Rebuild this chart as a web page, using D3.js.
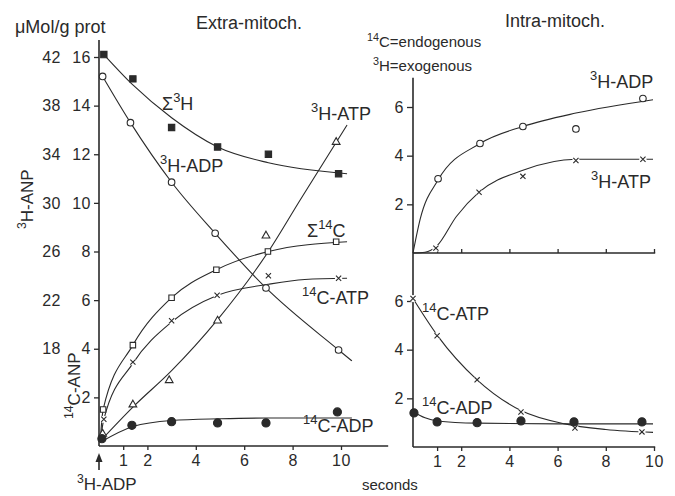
<!DOCTYPE html>
<html>
<head>
<meta charset="utf-8">
<script src="https://cdn.jsdelivr.net/npm/d3@7"></script>
<style>
    body {margin: 0; background: #fff}
    svg {display: block; background: #fff}
</style>
</head>
<body>
<svg id="chart" width="675" height="496"></svg>
<script>
// ---- left panel: extra-mitoch. (seconds, umol/g prot) ----
// measured points
const sum3H = [[0.2, 16.1], [1.4, 15.1], [3.0, 13.1], [4.9, 12.3], [7.0, 12.0], [9.9, 11.2]]
const h3ADP = [[0.15, 15.2], [1.3, 13.3], [3.0, 10.85], [4.8, 8.75], [6.9, 6.5], [9.9, 3.95]]
const h3ATP = [[0.15, 0.5], [1.4, 1.7], [2.9, 2.7], [4.9, 5.15], [6.9, 8.65], [9.8, 12.5]]
const sum14C = [[0.17, 1.5], [1.4, 4.15], [3.0, 6.1], [4.85, 7.25], [6.98, 8.0], [9.8, 8.4]]
const c14ATP = [[0.2, 1.1], [1.4, 3.45], [3.0, 5.15], [4.88, 6.2], [7.0, 7.0], [9.9, 6.9]]
const c14ADP = [[0.12, 0.3], [1.36, 0.85], [3.0, 1.0], [4.9, 0.95], [6.9, 0.95], [9.85, 1.4]]
// hand-drawn fitted curves
const sum3HFit = [[0.2, 16.1], [1.4, 14.85], [3.0, 13.5], [4.9, 12.3], [7.0, 11.65], [10.25, 11.2]]
const h3ADPFit = [[0.15, 15.2], [1.3, 13.3], [3.0, 10.85], [4.8, 8.75], [6.9, 6.5], [9.9, 3.95], [10.45, 3.5]]
const h3ATPFit = [[0.05, 0.2], [1.4, 1.6], [3.0, 3.1], [4.9, 5.2], [7.0, 8.0], [8.3, 10.1], [10.25, 13.2]]
const sum14CFit = [[0.05, 0.2], [0.17, 1.5], [1.4, 4.15], [3.0, 6.1], [4.85, 7.25], [7.0, 8.0], [10.25, 8.4]]
const c14ATPFit = [[0.05, 0.2], [0.2, 1.1], [1.4, 3.4], [3.0, 5.1], [4.9, 6.2], [7.0, 6.65], [8.5, 6.85], [10.25, 6.9]]
const c14ADPFit = [[0.05, 0.15], [1.4, 0.8], [3.0, 1.05], [5.0, 1.12], [7.0, 1.15], [10.45, 1.15]]

// ---- right panel: intra-mitoch. ----
const r3ADP = [[1.04, 3.05], [2.78, 4.5], [4.56, 5.2], [6.76, 5.1], [9.54, 6.35]]
const r3ATP = [[0.95, 0.2], [2.74, 2.5], [4.56, 3.15], [6.76, 3.8], [9.54, 3.85]]
const r14ATP = [[0, 6.1], [1.0, 4.57], [2.66, 2.76], [4.48, 1.44], [6.72, 0.78], [9.5, 0.62]]
const r14ADP = [[0.04, 1.4], [1.0, 1.03], [2.66, 1.0], [4.48, 1.07], [6.68, 1.03], [9.5, 1.03]]
const r3ADPFit = [[0, 0], [0.3, 1.4], [1.04, 3.0], [2.78, 4.5], [4.56, 5.2], [6.76, 5.75], [9.96, 6.3]]
const r3ATPFit = [[0, 0], [0.5, 0.03], [1.0, 0.3], [1.8, 1.5], [2.74, 2.5], [4.56, 3.4], [6.76, 3.85], [9.96, 3.85]]
const r14ATPFit = [[0, 6.1], [1.0, 4.6], [2.66, 2.76], [4.48, 1.5], [6.3, 0.95], [8.0, 0.72], [9.96, 0.6]]
const r14ADPFit = [[0, 1.45], [0.5, 1.2], [1.0, 1.07], [2.66, 0.98], [6.0, 0.95], [9.96, 0.95]]

// ticks
const xTicks = [1, 2, 4, 6, 8, 10]
const leftTicks = [2, 4, 6, 8, 10, 12, 14, 16]
const outerTicks = [4, 6, 8, 10, 12, 14, 16]
const outerTickLabels = ["18", "22", "26", "30", "34", "38", "42"]
const rightTicks = [2, 4, 6]

const ink = "#2a2a2a"
const font = "'Liberation Sans', Arial, sans-serif"
const svg = d3.select("#chart").style("font-family", font)

const xL = d3.scaleLinear().domain([0, 10]).range([99, 341])
const yL = d3.scaleLinear().domain([0, 16]).range([446, 57])
const xR = d3.scaleLinear().domain([0, 10]).range([413, 654])
const yRU = d3.scaleLinear().domain([0, 6]).range([253, 107])
const yRL = d3.scaleLinear().domain([0, 6]).range([447, 301])

const styleAxis = (g) => {
    g.attr("font-family", font).attr("font-size", 16)
    g.select(".domain").remove()
    g.selectAll("line").attr("stroke", ink).attr("stroke-width", 1.3)
    g.selectAll("text").attr("fill", ink).style("letter-spacing", "0.5px")
}

const axisLine = (x1, y1, x2, y2) => {
    svg.append("line")
        .attr("x1", x1).attr("y1", y1).attr("x2", x2).attr("y2", y2)
        .attr("stroke", ink).attr("stroke-width", 1.6)
}

// left axes
axisLine(xL(0), yL(0), xL(0), yL(16.7))
axisLine(xL(0), yL(0), xL(11.95), yL(0))
svg.append("g")
    .attr("transform", "translate(" + xL(0) + ",0)")
    .call(d3.axisLeft(yL).tickValues(leftTicks).tickSize(5).tickPadding(3).tickFormat(d3.format("d")))
    .call(styleAxis)
svg.append("g")
    .attr("transform", "translate(61,0)")
    .call(d3.axisLeft(yL).tickValues(outerTicks).tickSize(0).tickPadding(0)
        .tickFormat((d, i) => outerTickLabels[i]))
    .call(styleAxis)
svg.append("g")
    .attr("transform", "translate(0," + yL(0) + ")")
    .call(d3.axisBottom(xL).tickValues(xTicks).tickSize(4).tickPadding(5).tickFormat(d3.format("d")))
    .call(styleAxis)

// right axes
axisLine(xR(0), yRL(0), xR(0), yRU(7.2))
axisLine(xR(0), yRU(0), xR(10.05), yRU(0))
axisLine(xR(0), yRL(0), xR(10.05), yRL(0))
svg.append("g")
    .attr("transform", "translate(" + xR(0) + ",0)")
    .call(d3.axisLeft(yRU).tickValues(rightTicks).tickSize(6).tickPadding(3).tickFormat(d3.format("d")))
    .call(styleAxis)
svg.append("g")
    .attr("transform", "translate(" + xR(0) + ",0)")
    .call(d3.axisLeft(yRL).tickValues(rightTicks).tickSize(6).tickPadding(3).tickFormat(d3.format("d")))
    .call(styleAxis)
svg.append("g")
    .attr("transform", "translate(0," + yRU(0) + ")")
    .call(d3.axisTop(xR).tickValues(xTicks).tickSize(4).tickFormat(""))
    .call(styleAxis)
svg.append("g")
    .attr("transform", "translate(0," + yRL(0) + ")")
    .call(d3.axisBottom(xR).tickValues(xTicks).tickSize(4).tickPadding(5).tickFormat(d3.format("d")))
    .call(styleAxis)

// curves
const drawCurve = (data, x, y) => {
    svg.append("path")
        .datum(data)
        .attr("fill", "none")
        .attr("stroke", ink)
        .attr("stroke-width", 1.1)
        .attr("d", d3.line().x(d => x(d[0])).y(d => y(d[1])).curve(d3.curveMonotoneX))
}

drawCurve(sum3HFit, xL, yL)
drawCurve(h3ADPFit, xL, yL)
drawCurve(h3ATPFit, xL, yL)
drawCurve(sum14CFit, xL, yL)
drawCurve(c14ATPFit, xL, yL)
drawCurve(c14ADPFit, xL, yL)
drawCurve(r3ADPFit, xR, yRU)
drawCurve(r3ATPFit, xR, yRU)
drawCurve(r14ATPFit, xR, yRL)
drawCurve(r14ADPFit, xR, yRL)

// markers
const symbols = {
    fsq: {d: d3.symbol(d3.symbolSquare, 40)(), fill: ink},
    osq: {d: d3.symbol(d3.symbolSquare, 30)(), fill: "#fff"},
    oci: {d: d3.symbol(d3.symbolCircle, 34)(), fill: "#fff"},
    fci: {d: d3.symbol(d3.symbolCircle, 52)(), fill: ink},
    tri: {d: d3.symbol(d3.symbolTriangle, 26)(), fill: "#fff"},
    x: {d: "M-2.6,-2.6L2.6,2.6M-2.6,2.6L2.6,-2.6", fill: "none"}
}

const drawMarks = (data, x, y, type) => {
    const g = svg.append("g")
    if (type === "x") {
        g.selectAll(null).data(data).enter().append("circle")
            .attr("cx", d => x(d[0])).attr("cy", d => y(d[1])).attr("r", 3.6)
            .attr("fill", "#fff")
    }
    g.selectAll(null).data(data).enter().append("path")
        .attr("transform", d => "translate(" + x(d[0]) + "," + y(d[1]) + ")")
        .attr("d", symbols[type].d)
        .attr("fill", symbols[type].fill)
        .attr("stroke", ink)
        .attr("stroke-width", 1.1)
}

drawMarks(sum3H, xL, yL, "fsq")
drawMarks(h3ADP, xL, yL, "oci")
drawMarks(h3ATP, xL, yL, "tri")
drawMarks(sum14C, xL, yL, "osq")
drawMarks(c14ATP, xL, yL, "x")
drawMarks(c14ADP, xL, yL, "fci")
drawMarks(r3ADP, xR, yRU, "oci")
drawMarks(r3ATP, xR, yRU, "x")
drawMarks(r14ATP, xR, yRL, "x")
drawMarks(r14ADP, xR, yRL, "fci")

// text with superscripts: parts = [text, isSup]
const rich = (x, y, parts, size, rotate) => {
    const t = svg.append("text")
        .attr("x", x).attr("y", y)
        .attr("fill", ink)
        .style("font-size", size + "px")
    if (rotate) t.attr("transform", "rotate(-90," + x + "," + y + ")")
    const lift = size * 0.42
    let up = false
    parts.forEach(p => {
        const s = t.append("tspan").text(p[0])
        if (p[1] && !up) {
            s.attr("dy", -lift).style("font-size", (size * 0.72) + "px")
            up = true
        } else if (p[1]) {
            s.style("font-size", (size * 0.72) + "px")
        } else if (up) {
            s.attr("dy", lift)
            up = false
        }
    })
}

rich(15, 33, [["μMol/g prot"]], 18)
rich(196, 29, [["Extra-mitoch."]], 18)
rich(505, 27, [["Intra-mitoch."]], 18)
rich(367, 47, [["14", true], ["C=endogenous"]], 15)
rich(373, 71, [["3", true], ["H=exogenous"]], 15)
rich(33, 229, [["3", true], ["H-ANP"]], 17, true)
rich(80, 419, [["14", true], ["C-ANP"]], 17, true)

rich(162, 110, [["Σ"], ["3", true], ["H"]], 18)
rich(160, 172, [["3", true], ["H-ADP"]], 18)
rich(311, 120, [["3", true], ["H-ATP"]], 18)
rich(307, 237, [["Σ"], ["14", true], ["C"]], 18)
rich(302, 304, [["14", true], ["C-ATP"]], 18)
rich(303, 432, [["14", true], ["C-ADP"]], 18)
rich(590, 88, [["3", true], ["H-ADP"]], 18)
rich(591, 188, [["3", true], ["H-ATP"]], 18)
rich(422, 320, [["14", true], ["C-ATP"]], 18)
rich(422, 414, [["14", true], ["C-ADP"]], 18)
rich(77, 490, [["3", true], ["H-ADP"]], 17)
rich(362, 490, [["seconds"]], 15)

// injection arrow under t = 0
svg.append("line")
    .attr("x1", xL(0)).attr("x2", xL(0))
    .attr("y1", yL(0) + 24).attr("y2", yL(0) + 10)
    .attr("stroke", ink).attr("stroke-width", 1.6)
svg.append("path")
    .attr("transform", "translate(" + xL(0) + "," + (yL(0) + 10) + ")")
    .attr("d", "M0,-3L-3.5,6L3.5,6Z")
    .attr("fill", ink)
</script>
</body>
</html>
